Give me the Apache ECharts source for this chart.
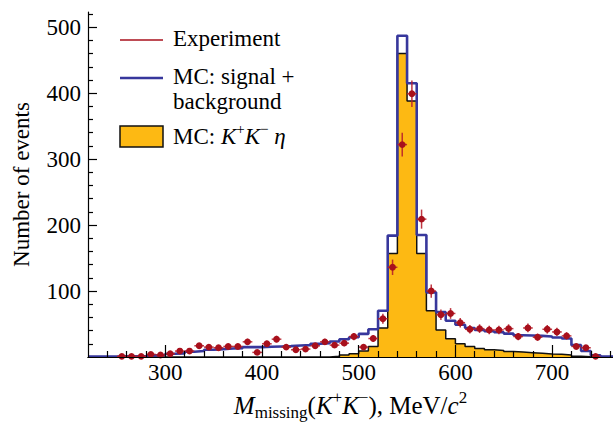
<!DOCTYPE html>
<html>
<head>
<meta charset="utf-8">
<script src="https://cdn.jsdelivr.net/npm/echarts@6/dist/echarts.min.js"></script>
<style>
  html, body { margin: 0; padding: 0; background: #fff; }
  #chart { width: 613px; height: 425px; }
</style>
</head>
<body>
<div id="chart"></div>
<script>
// Histogram binning: 10 MeV/c^2 bins, lower edges from 220 to 760
const binLow = [220, 230, 240, 250, 260, 270, 280, 290, 300, 310, 320, 330, 340, 350, 360, 370, 380, 390,
  400, 410, 420, 430, 440, 450, 460, 470, 480, 490, 500, 510, 520, 530, 540, 550, 560, 570, 580, 590,
  600, 610, 620, 630, 640, 650, 660, 670, 680, 690, 700, 710, 720, 730, 740, 750, 760];
const binWidth = 10;

// MC: signal + background (events per bin)
const mcTotal = [0.5, 0.5, 0.5, 1, 1, 1.5, 2.5, 3, 5, 5.5, 8, 9, 11, 12, 13, 13.5, 15, 15,
  15.5, 16, 16.5, 17.5, 18, 20, 21, 23.5, 27, 30, 35, 42, 70, 184, 487, 415, 185, 98, 68, 55,
  49, 44, 41, 39, 37.5, 35.5, 33, 32.5, 32, 31, 29.5, 28, 18, 9, 2.5, 0.5, 0.5];

// MC: K+K- eta signal only
const mcSignal = [0, 0, 0, 0, 0, 0, 0, 0, 0, 0, 0, 0, 0, 0, 0, 0, 0, 0,
  0, 0, 0, 0, 0, 0, 0, 1, 3, 5, 9, 16, 44, 157, 460, 388, 157, 70, 41, 27.5,
  20, 16, 13, 11, 10, 8.5, 7.5, 6.5, 5.5, 4.5, 4, 3, 1, 0.5, 0, 0, 0];

// Experiment: bin centres and counts
const expCenters = [255, 265, 275, 285, 295, 305, 315, 325, 335, 345, 355, 365, 375, 385, 395, 405, 415, 425, 435, 445,
  455, 465, 475, 485, 495, 505, 515, 525, 535, 545, 555, 565, 575, 585, 595, 605, 615, 625, 635, 645,
  655, 665, 675, 685, 695, 705, 715, 725, 735, 745];
const expCounts = [1, 1, 1, 4, 3, 5, 9, 9, 17, 15, 14, 16, 16, 23, 7, 20, 27, 15, 11, 12,
  17, 23, 18, 21, 31, 15, 28, 58, 136, 322, 399, 209, 100, 64, 66, 52, 42, 43, 41, 41,
  43, 31, 44, 30, 42, 38, 32, 16, 14, 1];

// Axis ticks
const xMajorTicks = [300, 400, 500, 600, 700];
const xMinorTicks = [240, 260, 280, 320, 340, 360, 380, 420, 440, 460, 480, 520, 540, 560, 580, 620, 640, 660, 680, 720, 740, 760];
const yMajorTicks = [100, 200, 300, 400, 500];
const yMinorTicks = [20, 40, 60, 80, 120, 140, 160, 180, 220, 240, 260, 280, 320, 340, 360, 380, 420, 440, 460, 480, 520];

const FONT = "'Liberation Serif', 'Times New Roman', serif";
const ORANGE = '#fdb913';
const BLUE = '#37379c';
const RED = '#a8101c';

// step-line data: a point at every lower edge plus the closing upper edge
function stepData(values) {
  const d = binLow.map((x, i) => [x, values[i]]);
  d.push([binLow[binLow.length - 1] + binWidth, values[values.length - 1]]);
  return d;
}

const chart = echarts.init(document.getElementById('chart'), null, { renderer: 'svg' });

// rich styles for the legend entry
const legendRich = {
  i: { fontStyle: 'italic', fontSize: 23, fontFamily: FONT, lineHeight: 30, verticalAlign: 'middle' },
  r: { fontSize: 23, fontFamily: FONT, lineHeight: 30, verticalAlign: 'middle' },
  sup: { fontSize: 15, fontFamily: FONT, lineHeight: 30, verticalAlign: 'top' }
};
// rich styles for the x-axis title
const titleRich = {
  i: { fontStyle: 'italic', fontSize: 25, fontFamily: FONT, lineHeight: 32, verticalAlign: 'middle' },
  r: { fontSize: 25, fontFamily: FONT, lineHeight: 32, verticalAlign: 'middle' },
  sup: { fontSize: 17, fontFamily: FONT, lineHeight: 32, verticalAlign: 'top' },
  sub: { fontSize: 17, fontFamily: FONT, lineHeight: 32, verticalAlign: 'bottom' }
};

const option = {
  animation: false,
  backgroundColor: '#fff',
  grid: { left: 88, right: 0, top: 12, bottom: 68, containLabel: false, outerBoundsMode: 'none' },
  xAxis: [
    {
      type: 'value', min: 220, max: 763, position: 'bottom', z: 10,
      axisLine: { show: true, onZero: false, lineStyle: { color: '#000', width: 1.2 } },
      axisTick: { show: true, inside: true, length: 12, customValues: xMajorTicks, lineStyle: { color: '#000', width: 1.2 } },
      axisLabel: { customValues: xMajorTicks, margin: 4, fontSize: 23, fontFamily: FONT, color: '#000' },
      splitLine: { show: false },
      name: '{i|M}{sub|missing}{r|(}{i|K}{sup|+}{i|K}{sup|−}{r|), MeV/}{i|c}{sup|2}',
      nameLocation: 'middle', nameGap: 32,
      nameTextStyle: { rich: titleRich, fontSize: 25, fontFamily: FONT, color: '#000' }
    },
    {
      type: 'value', min: 220, max: 763, position: 'bottom', z: 10,
      axisLine: { show: false },
      axisTick: { show: true, inside: true, length: 6, customValues: xMinorTicks, lineStyle: { color: '#000', width: 1.2 } },
      axisLabel: { show: false },
      splitLine: { show: false }
    },
    {
      type: 'value', min: 220, max: 763, position: 'top', z: 10,
      axisLine: { show: true, lineStyle: { color: '#000', width: 1.2 } },
      axisTick: { show: false }, axisLabel: { show: false }, splitLine: { show: false }
    }
  ],
  yAxis: [
    {
      type: 'value', min: 0, max: 523, position: 'left', z: 10,
      axisLine: { show: true, lineStyle: { color: '#000', width: 1.2 } },
      axisTick: { show: true, inside: true, length: 9, customValues: yMajorTicks, lineStyle: { color: '#000', width: 1.2 } },
      axisLabel: { customValues: yMajorTicks, margin: 7, fontSize: 23, fontFamily: FONT, color: '#000' },
      splitLine: { show: false },
      name: 'Number of events', nameLocation: 'middle', nameGap: 55, nameRotate: 90,
      nameTextStyle: { fontSize: 23, fontFamily: FONT, color: '#000' }
    },
    {
      type: 'value', min: 0, max: 523, position: 'left', z: 10,
      axisLine: { show: false },
      axisTick: { show: true, inside: true, length: 5, customValues: yMinorTicks, lineStyle: { color: '#000', width: 1.2 } },
      axisLabel: { show: false }, splitLine: { show: false }
    }
  ],
  series: [
    {
      name: 'MC: K+K- eta', type: 'line', step: 'end', xAxisIndex: 0, yAxisIndex: 0,
      data: stepData(mcSignal), symbol: 'none', z: 2,
      lineStyle: { color: '#111', width: 1.5 },
      areaStyle: { color: ORANGE, opacity: 1 }
    },
    {
      name: 'MC: signal + background', type: 'line', step: 'end', xAxisIndex: 0, yAxisIndex: 0,
      data: stepData(mcTotal), symbol: 'none', z: 3,
      lineStyle: { color: BLUE, width: 2.6 }
    },
    {
      name: 'Experiment', type: 'custom', xAxisIndex: 0, yAxisIndex: 0, z: 4,
      data: expCenters.map((x, i) => [x, expCounts[i]]),
      renderItem: function (params, api) {
        const x = api.value(0);
        const y = api.value(1);
        const err = Math.sqrt(y);
        const c = api.coord([x, y]);
        const l = api.coord([x - binWidth / 2, y]);
        const r = api.coord([x + binWidth / 2, y]);
        const t = api.coord([x, y + err]);
        const b = api.coord([x, Math.max(y - err, 0)]);
        const barStyle = { stroke: '#b8202c', lineWidth: 1.5, opacity: 0.9 };
        return {
          type: 'group',
          children: [
            { type: 'line', shape: { x1: l[0], y1: l[1], x2: r[0], y2: r[1] }, style: barStyle },
            { type: 'line', shape: { x1: t[0], y1: t[1], x2: b[0], y2: b[1] }, style: barStyle },
            { type: 'circle', shape: { cx: c[0], cy: c[1], r: 3.4 }, style: { fill: RED } }
          ]
        };
      }
    }
  ],
  graphic: [
    { type: 'line', shape: { x1: 120, y1: 40, x2: 163, y2: 40 }, style: { stroke: RED, lineWidth: 1.5 } },
    { type: 'text', left: 173, top: 27, style: { text: 'Experiment', font: '23px ' + FONT, fill: '#000' } },
    { type: 'line', shape: { x1: 120, y1: 78, x2: 163, y2: 78 }, style: { stroke: BLUE, lineWidth: 2.6 } },
    { type: 'text', left: 173, top: 64, style: { text: 'MC: signal +\nbackground', font: '23px ' + FONT, lineHeight: 25, fill: '#000' } },
    { type: 'rect', shape: { x: 120, y: 126, width: 43, height: 21 }, style: { fill: ORANGE, stroke: '#111', lineWidth: 1.5 } },
    {
      type: 'text', left: 173, top: 121,
      style: {
        text: '{r|MC: }{i|K}{sup|+}{i|K}{sup|−}{r| }{i|η}',
        rich: legendRich, fill: '#000'
      }
    }
  ]
};

chart.setOption(option);
</script>
</body>
</html>
